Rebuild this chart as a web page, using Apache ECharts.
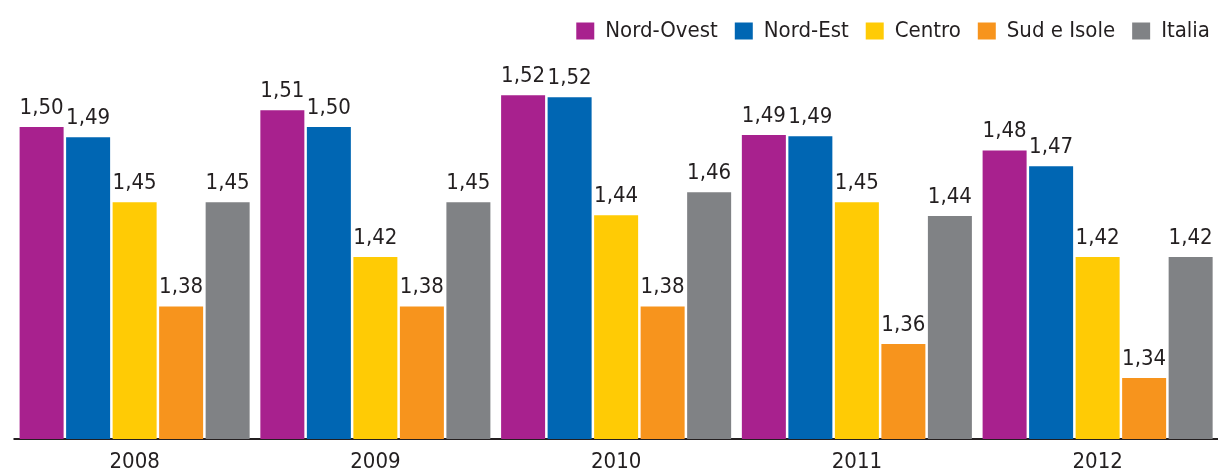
<!DOCTYPE html>
<html>
<head>
<meta charset="utf-8">
<script src="https://cdn.jsdelivr.net/npm/echarts@6/dist/echarts.min.js"></script>
<style>
html,body{margin:0;padding:0;background:#fff;}
#main{width:1218px;height:474px;}
</style>
</head>
<body>
<div id="main"></div>
<script>
const categories = ['2008', '2009', '2010', '2011', '2012'];
const seriesNames = ['Nord-Ovest', 'Nord-Est', 'Centro', 'Sud e Isole', 'Italia'];
const nordOvest = [1.500, 1.5108, 1.5204, 1.4948, 1.4849];
const nordEst   = [1.4935, 1.500, 1.5191, 1.4941, 1.4749];
const centro    = [1.4518, 1.4166, 1.4435, 1.4518, 1.4166];
const sudIsole  = [1.3849, 1.3849, 1.3849, 1.3609, 1.3391];
const italia    = [1.4518, 1.4518, 1.4582, 1.4429, 1.4166];
const colors = ['#A8218E', '#0066B3', '#FFCB05', '#F7941D', '#808285'];

const FONT = "'Liberation Sans Narrow', 'DejaVu Sans Condensed', sans-serif";
const TEXT = '#231F20';
const allData = [nordOvest, nordEst, centro, sudIsole, italia];

const chart = echarts.init(document.getElementById('main'), null, {renderer: 'canvas'});
chart.setOption({
  animation: false,
  backgroundColor: '#ffffff',
  textStyle: {fontFamily: FONT},
  legend: {
    right: 3,
    top: 15,
    itemWidth: 18,
    itemHeight: 17,
    itemGap: 17,
    icon: 'rect',
    textStyle: {fontFamily: FONT, fontSize: 22, color: TEXT, padding: [0, 0, 0, 6]},
    data: seriesNames
  },
  grid: {left: 14.25, width: 1207.5, top: 49, bottom: 35, containLabel: false},
  xAxis: {
    type: 'category',
    data: categories,
    axisLine: {show: true, lineStyle: {color: TEXT, width: 2}},
    axisTick: {show: false},
    axisLabel: {fontFamily: FONT, fontSize: 22, color: TEXT, margin: 12}
  },
  yAxis: {
    type: 'value',
    min: 1.30,
    max: 1.55,
    show: false,
    splitLine: {show: false}
  },
  series: seriesNames.map((name, i) => ({
    name: name,
    type: 'bar',
    data: allData[i],
    barWidth: 44,
    barGap: '5.7%',
    itemStyle: {color: colors[i]},
    label: {
      show: true,
      position: 'top',
      distance: 8,
      fontFamily: FONT,
      fontSize: 22,
      color: TEXT,
      formatter: p => p.value.toFixed(2).replace('.', ',')
    }
  }))
});
</script>
</body>
</html>
